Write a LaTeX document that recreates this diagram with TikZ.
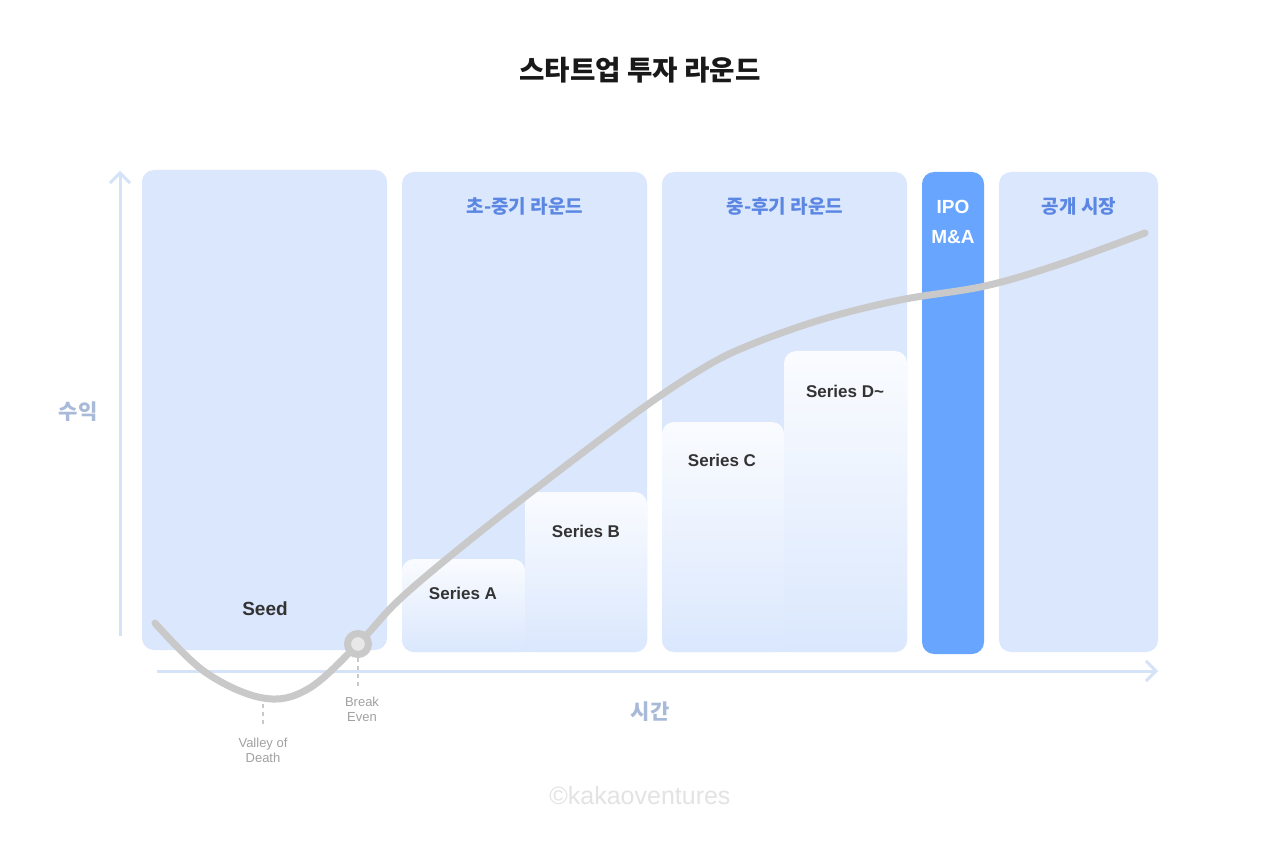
\documentclass[tikz,border=0pt]{standalone}
\usepackage{fontspec}
\setmainfont{Noto Sans CJK KR}
\newfontfamily\latinfont{Liberation Sans}
\usetikzlibrary{arrows.meta}
\definecolor{panelblue}{HTML}{DAE7FD}
\definecolor{ipoblue}{HTML}{68A5FF}
\definecolor{headblue}{HTML}{5B87E3}
\definecolor{axisblue}{HTML}{D5E3F8}
\definecolor{axistext}{HTML}{A8BAD8}
\definecolor{curvegray}{HTML}{C9C9C9}
\definecolor{darktext}{HTML}{333333}
\definecolor{marktext}{HTML}{E3E3E3}

\begin{document}
\begin{tikzpicture}[x=0.5pt,y=-0.5pt]
   \tikzstyle{panel}=[fill=panelblue,rounded corners=6pt]
   \tikzstyle{series}=[top color=white!85!panelblue,bottom color=panelblue,middle color=white!45!panelblue,rounded corners=6pt]
   \tikzstyle{head}=[text=headblue,font=\fontsize{9.5}{11}\selectfont\bfseries]
   \tikzstyle{label}=[text=darktext,font=\latinfont\fontsize{8.5}{10}\selectfont\bfseries]
   \tikzstyle{axis}=[draw=axisblue,line width=1.5pt,-{Straight Barb[length=5pt,width=10pt,line width=1.5pt]}]
   \tikzstyle{axlabel}=[text=axistext,font=\fontsize{10.5}{12}\selectfont\bfseries]
   \tikzstyle{small}=[text=curvegray!80!black,font=\latinfont\fontsize{6.5}{7.5}\selectfont,align=center]
   \tikzstyle{tick}=[draw=curvegray,line width=1pt,dash pattern=on 2pt off 2pt]
   \useasboundingbox[fill=white] (0,0) rectangle (1280,845);
   % panels
   \fill[panel] (142,170) rectangle (387,650);
   \fill[panel] (402,172) rectangle (647,652);
   \fill[panel] (662,172) rectangle (907,652);
   \fill[panel,fill=ipoblue] (922,172) rectangle (984,654);
   \fill[panel] (999,172) rectangle (1158,652);
   % series steps
   \shade[series] (402,559) rectangle (525,652);
   \shade[series] (525,492) rectangle (647,652);
   \shade[series] (662,422) rectangle (784,652);
   \shade[series] (784,351) rectangle (907,652);
   % titles
   \node (title) [font=\fontsize{13.8}{16}\selectfont\bfseries,text=black!90] at (640,70) {스타트업 투자 라운드} ;
   \node (early) [head] at (525,206) {초-중기 라운드} ;
   \node (late) [head] at (785,206) {중-후기 라운드} ;
   \node (ipo) [head,text=white,align=center,font=\latinfont\fontsize{9.5}{15}\selectfont\bfseries] at (953,222) {IPO\\M\&A} ;
   \node (public) [head] at (1079,206) {공개 시장} ;
   \node (seed) [label,font=\latinfont\fontsize{9.5}{11}\selectfont\bfseries] at (265,609) {Seed} ;
   \node (sa) [label] at (463,593) {Series A} ;
   \node (sb) [label] at (586,531) {Series B} ;
   \node (sc) [label] at (722,460) {Series C} ;
   \node (sd) [label] at (845,391) {Series D\string~} ;
   % axes
   \coordinate (y0) at (120,636) ;
   \coordinate (y1) at (120,171) ;
   \coordinate (x0) at (157,671) ;
   \coordinate (x1) at (1158,671) ;
   \path [axis] (y0) -- (y1) ;
   \path [axis] (x0) -- (x1) ;
   \node (profit) [axlabel] at (78,412) {수익} ;
   \node (time) [axlabel] at (650,712) {시간} ;
   % curve
   \draw[curvegray,line width=3.5pt,line cap=round] plot[smooth,tension=0.6] coordinates {
      (155,623) (205,672) (263,698) (308,689) (358,644) (400,599)
      (470,540) (547,480) (640,410) (700,370) (745,347) (820,320)
      (900,300) (985,286) (1060,264) (1145,233)} ;
   \coordinate (valley) at (263,698) ;
   \node (even) [circle,draw=curvegray,fill=black!9,line width=3.5pt,minimum size=10.5pt,inner sep=0pt] at (358,644) {} ;
   \coordinate (vtick) at (263,727) ;
   \coordinate (etick) at (358,686) ;
   \draw [tick] ([yshift=-3pt]valley) -- (vtick) ;
   \draw [tick] (even.south) -- (etick) ;
   \node (vlabel) [small] at (263,750) {Valley of\\Death} ;
   \node (elabel) [small] at (362,709) {Break\\Even} ;
   \node (mark) [text=marktext,font=\latinfont\fontsize{12.5}{14}\selectfont] at (640,796) {©kakaoventures} ;
\end{tikzpicture}
\end{document}
